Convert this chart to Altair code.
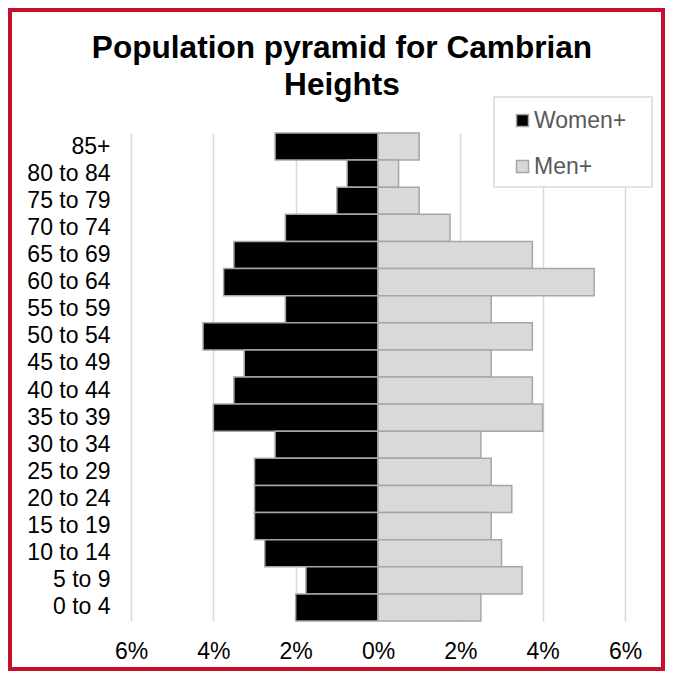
import altair as alt
import pandas as pd

ages = ["85+", "80 to 84", "75 to 79", "70 to 74", "65 to 69", "60 to 64",
        "55 to 59", "50 to 54", "45 to 49", "40 to 44", "35 to 39", "30 to 34",
        "25 to 29", "20 to 24", "15 to 19", "10 to 14", "5 to 9", "0 to 4"]
women = [2.5, 0.75, 1.0, 2.25, 3.5, 3.75, 2.25, 4.25, 3.25, 3.5, 4.0, 2.5,
         3.0, 3.0, 3.0, 2.75, 1.75, 2.0]
men = [1.0, 0.5, 1.0, 1.75, 3.75, 5.25, 2.75, 3.75, 2.75, 3.75, 4.0, 2.5,
       2.75, 3.25, 2.75, 3.0, 3.5, 2.5]
groups = ["Women+", "Men+"]
colors = ["#000000", "#d9d9d9"]
tick_values = [-6, -4, -2, 0, 2, 4, 6]

rows = []
for a, w, m in zip(ages, women, men):
    rows.append({"age": a, "group": groups[0], "value": -w})
    rows.append({"age": a, "group": groups[1], "value": m})
df = pd.DataFrame(rows)

FONT = "Liberation Sans"

bars = alt.Chart(df).mark_bar(
    stroke="#a6a6a6", strokeWidth=1.5
).encode(
    x=alt.X("value:Q",
            scale=alt.Scale(domain=[-6, 6], nice=False, zero=False),
            axis=alt.Axis(values=tick_values, labelExpr="abs(datum.value) + '%'",
                          title=None, domain=False, ticks=False, tickSize=0,
                          grid=True, gridColor="#d9d9d9", gridWidth=1.5,
                          labelFlush=False, labelOverlap=False, labelBound=False,
                          labelFont=FONT, labelFontSize=23, labelColor="#000000",
                          labelPadding=19)),
    y=alt.Y("age:N", sort=ages,
            scale=alt.Scale(paddingInner=0, paddingOuter=0),
            axis=alt.Axis(title=None, domain=False, ticks=False, tickSize=0,
                          grid=False, labelFont=FONT, labelFontSize=23,
                          labelColor="#000000", labelPadding=21)),
    color=alt.Color("group:N",
                    scale=alt.Scale(domain=groups, range=colors),
                    sort=groups,
                    legend=alt.Legend(title=None, orient="none", legendX=363, legendY=-36,
                                      padding=12, symbolOffset=5,
                                      symbolType="square", symbolSize=144,
                                      symbolStrokeColor="#a6a6a6", symbolStrokeWidth=1.5,
                                      labelFont=FONT, labelFontSize=23,
                                      labelColor="#595959", labelOffset=0,
                                      rowPadding=22)),
)

# decorative legend box (white, covers the gridlines behind the legend)
legend_box = alt.Chart(pd.DataFrame({"f": [0]})).mark_rect(
    fill="#ffffff", stroke="#d9d9d9", strokeWidth=1.5
).encode(
    x=alt.value(363), x2=alt.value(521),
    y=alt.value(-36), y2=alt.value(54),
)

# outer red frame
frame = alt.Chart(pd.DataFrame({"f": [0]})).mark_rect(
    fill=None, stroke="#c8102e", strokeWidth=4
).encode(
    x=alt.value(-121), x2=alt.value(532),
    y=alt.value(-123), y2=alt.value(536),
)

chart = alt.layer(bars, legend_box, frame).properties(
    width=494,
    height=488,
    padding={"left": 123, "top": 125, "right": 40, "bottom": 50},
    autosize=alt.AutoSizeParams(type="none"),
    title=alt.TitleParams(
        text=["Population pyramid for Cambrian", "Heights"],
        font=FONT, fontSize=31.6, fontWeight="bold", color="#000000",
        anchor="middle", frame="group", dx=-36, offset=0, dy=119,
        baseline="alphabetic", lineHeight=37,
    ),
).configure_view(stroke=None)

chart.save("out.html", embed_options={"renderer": "svg", "actions": False})
